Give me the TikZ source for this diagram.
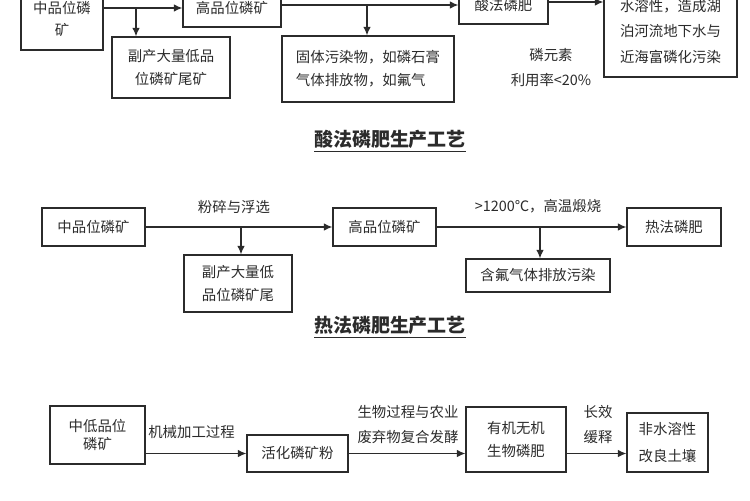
\documentclass[tikz,border=0pt]{standalone}
\usepackage{fontspec}
\setmainfont{Noto Sans CJK SC}
\usepackage{tikz}
\usetikzlibrary{arrows.meta}
\definecolor{ink}{HTML}{2B2B2B}

\tikzset{
  box/.style={draw=ink, line width=0.75pt, align=center, inner sep=0pt, text=ink},
  wh/.style 2 args={minimum width=#1*0.02cm, minimum height=#2*0.02cm},
  lbl/.style={align=center, inner sep=0pt, text=ink},
  arr/.style={draw=ink, line width=0.65pt, -{Latex[length=1.7mm,width=1.5mm]}},
  ttl/.style={inner sep=0pt, text=ink, font=\fontsize{10.8}{13}\selectfont\bfseries},
  wide/.style={font=\fontsize{8.2}{14.4}\selectfont},
}

\begin{document}
\begin{tikzpicture}[x=0.02cm, y=-0.02cm, font=\fontsize{8.2}{13}\selectfont]
\useasboundingbox (0,0) rectangle (750,500);
\clip (0,0) rectangle (750,500);

% acid process
\node (A1) [box, wh={82}{62}, font=\fontsize{8.2}{12.4}\selectfont] at (62,19) {中品位磷\\矿};
\node (B1) [box, wh={98}{38}]  at (232,8)     {高品位磷矿};
\node (C1) [box, wh={89}{38}]  at (503.5,5)   {酸法磷肥};
\node (F1) [box, wh={133}{91}, wide] at (670.5,31.5) {水溶性，造成湖\\泊河流地下水与\\近海富磷化污染};
\node (D1) [box, wh={118}{61}] at (171,67.5)  {副产大量低品\\位磷矿尾矿};
\node (E1) [box, wh={172}{66}, align=left] at (368,69) {固体污染物，如磷石膏\\气体排放物，如氟气};
\node (L1) [lbl, wide] at (551,67.5) {磷元素\\利用率<20\%};
\node (T1) [ttl] at (390,141) {\underline{酸法磷肥生产工艺}};

\coordinate (s1) at (136,8);
\coordinate (s2) at (367,5);
\coordinate (s3) at (548,2);

\draw[arr] (A1.east |- B1) -- (B1);
\draw[arr] (s1) -- (s1 |- D1.north);
\draw[arr] (B1.east |- C1) -- (C1);
\draw[arr] (s2) -- (s2 |- E1.north);
\draw[arr] (s3) -- (s3 -| F1.west);

% thermal process
\node (A2) [box, wh={103}{38}] at (93.5,227)  {中品位磷矿};
\node (B2) [box, wh={103}{38}] at (384.5,227) {高品位磷矿};
\node (C2) [box, wh={94}{38}]  at (674,227)   {热法磷肥};
\node (D2) [box, wh={108}{57}] at (238,283.5) {副产大量低\\品位磷矿尾};
\node (E2) [box, wh={144}{33}] at (538,275.5) {含氟气体排放污染};
\node (L2) [lbl] at (234,207) {粉碎与浮选};
\node (L3) [lbl] at (538,206) {>1200℃，高温煅烧};
\node (T2) [ttl] at (390,327) {\underline{热法磷肥生产工艺}};

\coordinate (s4) at (241,227);
\coordinate (s5) at (540,227);

\draw[arr] (A2) -- (B2);
\draw[arr] (s4) -- (s4 |- D2.north);
\draw[arr] (B2) -- (C2);
\draw[arr] (s5) -- (s5 |- E2.north);

% bio process
\node (A3) [box, wh={95}{58}, font=\fontsize{8.2}{10.8}\selectfont] at (97.5,435) {中低品位\\磷矿};
\node (B3) [box, wh={101}{37}] at (297.5,453.5) {活化磷矿粉};
\node (C3) [box, wh={100}{65}] at (516,439.5)   {有机无机\\生物磷肥};
\node (D3) [box, wh={81}{59}, font=\fontsize{8.2}{15.2}\selectfont] at (667.5,442.5) {非水溶性\\改良土壤};
\node (L4) [lbl] at (191.5,432) {机械加工过程};
\node (L5) [lbl, wide] at (408,424.5) {生物过程与农业\\废弃物复合发酵};
\node (L6) [lbl, wide] at (598,424.5) {长效\\缓释};

\draw[arr] (A3.east |- B3) -- (B3);
\draw[arr] (B3) -- (C3.west |- B3);
\draw[arr] (C3.east |- B3) -- (D3.west |- B3);
\end{tikzpicture}
\end{document}
